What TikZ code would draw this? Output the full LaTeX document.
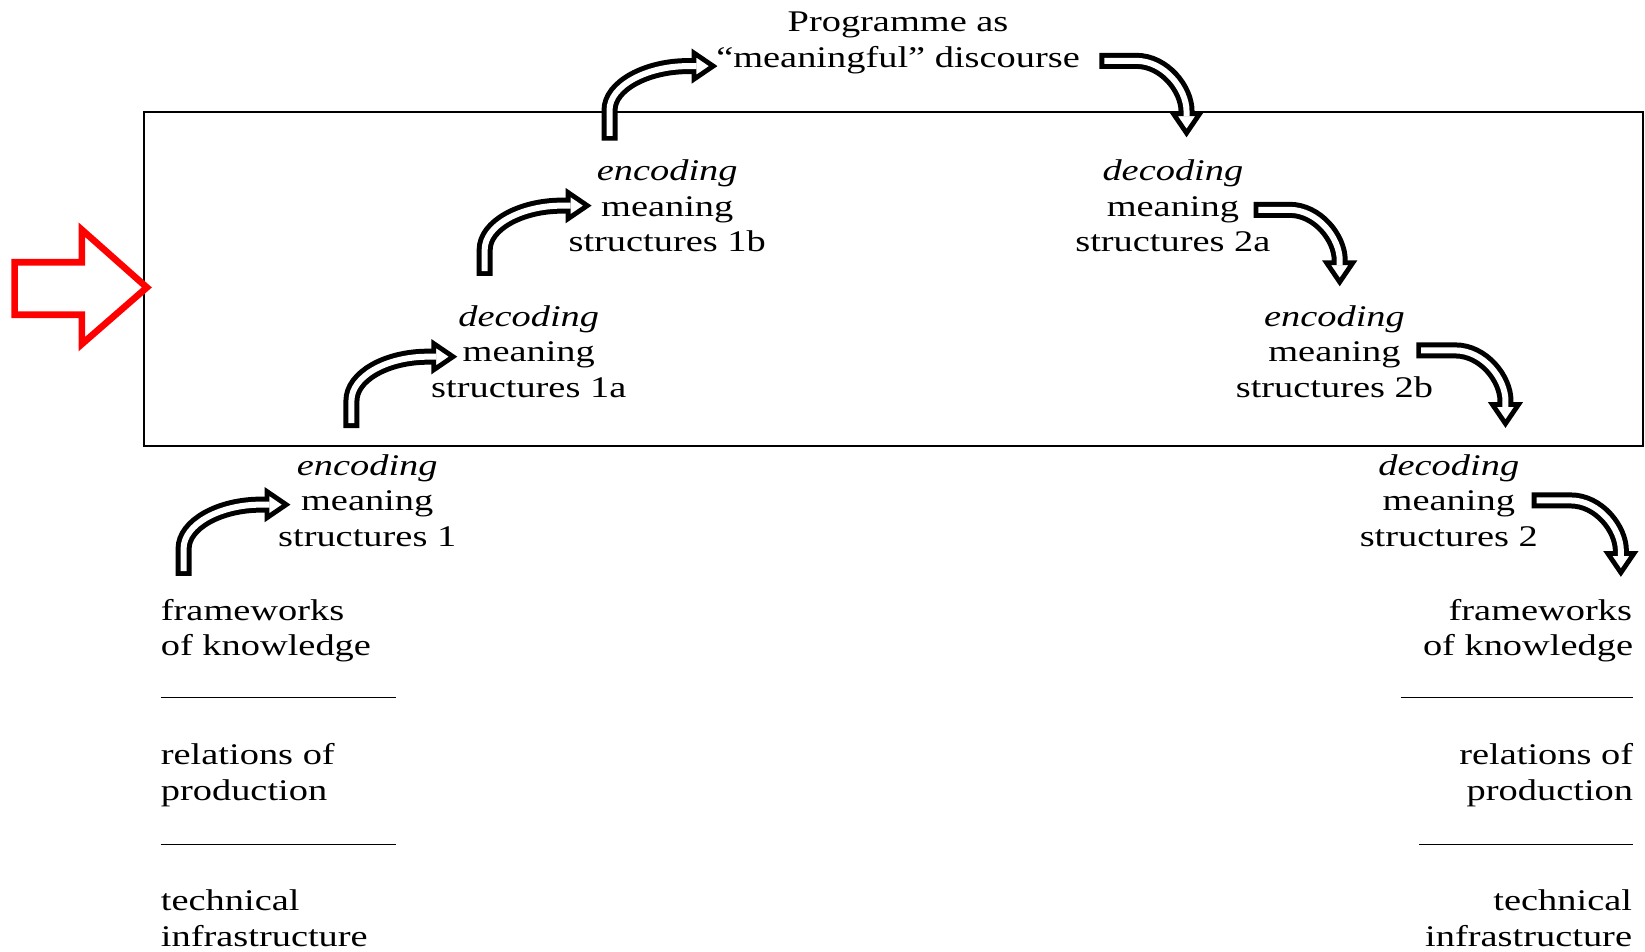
\documentclass[tikz,border=0pt]{standalone}
\usepackage{fontspec}
\setmainfont{Liberation Serif}[FakeStretch=1.28]
\usetikzlibrary{arrows.meta,calc}
\tikzset{
  txt/.style={anchor=base, inner sep=0pt, font=\fontsize{15pt}{18pt}\selectfont},
  txtl/.style={txt, anchor=base west},
  txtr/.style={txt, anchor=base east},
  outerarrow/.style={line width=8pt, line cap=butt,
    -{Triangle[length=13pt,width=17pt,line width=2.4pt,fill=white]}},
  innerarrow/.style={line width=3pt, white, line cap=butt, shorten <=2.4pt, shorten >=10.5pt},
  sepline/.style={line width=0.7pt},
  frame/.style={line width=1.1pt},
  redarrow/.style={draw=red, line width=3.3pt, line join=miter},
}
\newcommand{\tblock}[6]{%
  \node[txt] (#1-1) at (#2,#3) {#4};
  \node[txt] (#1-2) at ($(#1-1.base)+(0,34)$) {#5};
  \node[txt] (#1-3) at ($(#1-2.base)+(0,34)$) {#6};
}
% curved arrow going up then right: #1 start, #2 tip
\newcommand{\uparw}[2]{%
  \foreach \sty in {outerarrow,innerarrow}{
    \draw[\sty] (#1) -- ($(#1|-#2)+(0,42)$)
      .. controls ($(#1|-#2)+(0,19)$) and ($(#2)+(-68,0)$) .. ($(#2)+(-28,0)$) -- (#2);
  }
}
% curved arrow going right then down: #1 start, #2 tip
\newcommand{\downarw}[2]{%
  \foreach \sty in {outerarrow,innerarrow}{
    \draw[\sty] (#1) -- ($(#1-|#2)+(-48,0)$)
      .. controls ($(#1-|#2)+(-21,0)$) and ($(#1-|#2)+(0,27)$) .. ($(#1-|#2)+(0,48)$) -- (#2);
  }
}
\begin{document}
\begin{tikzpicture}[x=0.5246pt, y=-0.5246pt]
\useasboundingbox (0,0) rectangle (1568,907);

% frame
\coordinate (fr1) at (137,107);
\coordinate (fr2) at (1566,425);
\draw[frame] (fr1) rectangle (fr2);

% red arrow
\draw[redarrow] (14,250) -- (78,250) -- (78,219) -- (140,274) -- (78,328) -- (78,300) -- (14,300) -- cycle;

% title
\node[txt] (prog1) at (856,30) {Programme as};
\node[txt] (prog2) at ($(prog1.base)+(0,34)$) {“meaningful” discourse};

% meaning structure blocks
\tblock{enc1}{350}{453}{\textit{encoding}}{meaning}{structures 1}
\tblock{dec1a}{504}{311}{\textit{decoding}}{meaning}{structures 1a}
\tblock{enc1b}{636}{172}{\textit{encoding}}{meaning}{structures 1b}
\tblock{dec2a}{1118}{172}{\textit{decoding}}{meaning}{structures 2a}
\tblock{enc2b}{1272}{311}{\textit{encoding}}{meaning}{structures 2b}
\tblock{dec2}{1381}{453}{\textit{decoding}}{meaning}{structures 2}

% left bottom column
\node[txtl] (lf1) at (153,591) {frameworks};
\node[txtl] (lf2) at (153,625) {of knowledge};
\node[txtl] (lr1) at (153,729) {relations of};
\node[txtl] (lr2) at (153,763) {production};
\node[txtl] (lt1) at (153,868) {technical};
\node[txtl] (lt2) at (153,902) {infrastructure};
\coordinate (ls1a) at (153,665); \coordinate (ls1b) at (377,665);
\coordinate (ls2a) at (153,805); \coordinate (ls2b) at (377,805);
\draw[sepline] (ls1a) -- (ls1b);
\draw[sepline] (ls2a) -- (ls2b);

% right bottom column
\node[txtr] (rf1) at (1556,591) {frameworks};
\node[txtr] (rf2) at (1557,625) {of knowledge};
\node[txtr] (rr1) at (1557,729) {relations of};
\node[txtr] (rr2) at (1557,763) {production};
\node[txtr] (rt1) at (1556,868) {technical};
\node[txtr] (rt2) at (1556,902) {infrastructure};
\coordinate (rs1a) at (1335,665); \coordinate (rs1b) at (1557,665);
\coordinate (rs2a) at (1353,805); \coordinate (rs2b) at (1557,805);
\draw[sepline] (rs1a) -- (rs1b);
\draw[sepline] (rs2a) -- (rs2b);

% arrow end points
\coordinate (a1s) at (175,549); \coordinate (a1t) at (277,481);
\coordinate (a2s) at (335,408); \coordinate (a2t) at (436,340);
\coordinate (a3s) at (462,263); \coordinate (a3t) at (564,196);
\coordinate (a4s) at (581,134); \coordinate (a4t) at (684,63);
\coordinate (b1s) at (1048,58);  \coordinate (b1t) at (1131,131);
\coordinate (b2s) at (1195,200); \coordinate (b2t) at (1277,273);
\coordinate (b3s) at (1350,334); \coordinate (b3t) at (1435,408);
\coordinate (b4s) at (1460,477); \coordinate (b4t) at (1545,550);

\uparw{a1s}{a1t}
\uparw{a2s}{a2t}
\uparw{a3s}{a3t}
\uparw{a4s}{a4t}
\downarw{b1s}{b1t}
\downarw{b2s}{b2t}
\downarw{b3s}{b3t}
\downarw{b4s}{b4t}
\end{tikzpicture}
\end{document}
